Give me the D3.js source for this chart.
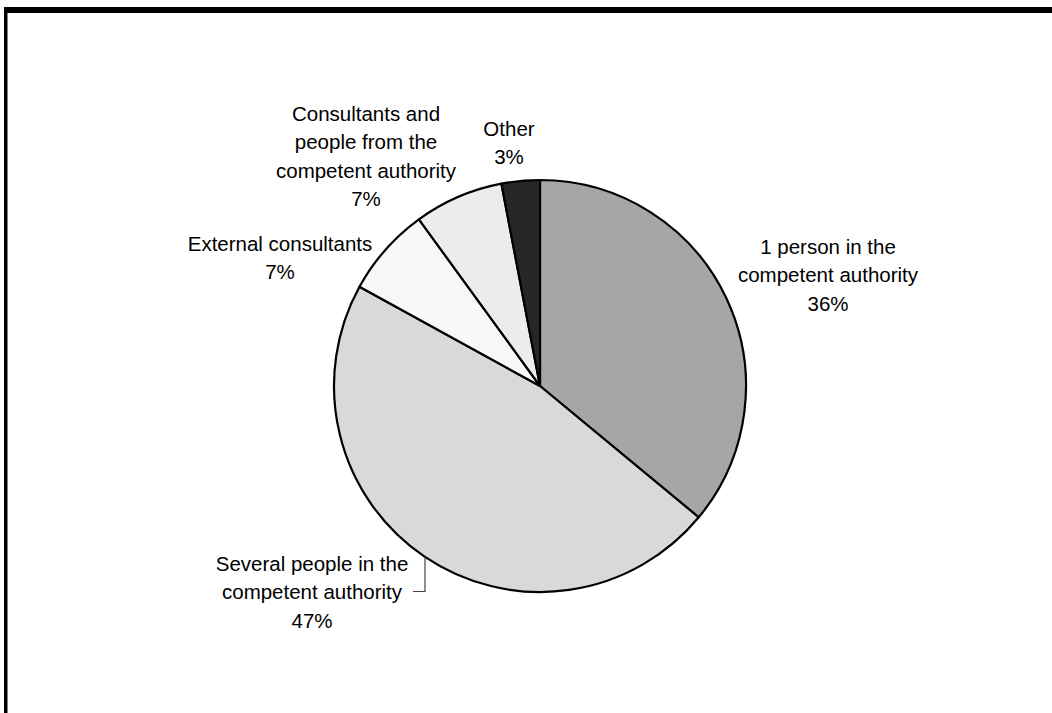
<!DOCTYPE html>
<html>
<head>
<meta charset="utf-8">
<script src="https://cdn.jsdelivr.net/npm/d3@7"></script>
<style>
  html, body { margin: 0; padding: 0; background: #fff; }
  svg { display: block; }
  text { font-family: "Liberation Sans", Arial, sans-serif; fill: #000; }
</style>
</head>
<body>
<svg id="chart" width="1052" height="713"></svg>
<script>
// ---- data ----
const categories = [
  "1 person in the competent authority",
  "Several people in the competent authority",
  "External consultants",
  "Consultants and people from the competent authority",
  "Other"
];
const values = [36, 47, 7, 7, 3];
const labelLines = [
  ["1 person in the", "competent authority"],
  ["Several people in the", "competent authority"],
  ["External consultants"],
  ["Consultants and", "people from the", "competent authority"],
  ["Other"]
];
const colors = ["#a6a6a6", "#d9d9d9", "#f8f8f8", "#ececec", "#272727"];

// ---- layout (positions, not data) ----
const cx = 540, cy = 386, R = 206;
const fontSize = 20.5, lineH = 28.5;
// label centre offsets relative to pie centre (x of centre, y of first line)
const labelPos = [
  [288, -140],
  [-228, -177 + 354],
  [-260, -143],
  [-174, -273],
  [-31, -258]
];

const svg = d3.select("#chart");

// frame
svg.append("rect").attr("x", 4).attr("y", 7).attr("width", 1048).attr("height", 6).attr("fill", "#000");
svg.append("rect").attr("x", 4).attr("y", 7).attr("width", 3.5).attr("height", 706).attr("fill", "#000");

const pie = d3.pie().sort(null).value(d => d)(values);
const arc = d3.arc().innerRadius(0).outerRadius(R);

const g = svg.append("g").attr("transform", `translate(${cx},${cy})`);
g.selectAll("path.slice")
  .data(pie)
  .join("path")
  .attr("class", "slice")
  .attr("d", arc)
  .attr("fill", (d, i) => colors[i])
  .attr("stroke", "#000")
  .attr("stroke-width", 2.2)
  .attr("stroke-linejoin", "round");

// labels
const lg = g.append("g");
pie.forEach((d, i) => {
  const lines = labelLines[i].concat([values[i] + "%"]);
  const t = lg.append("text")
    .attr("text-anchor", "middle")
    .attr("font-size", fontSize);
  lines.forEach((ln, k) => {
    t.append("tspan")
      .attr("x", labelPos[i][0])
      .attr("y", labelPos[i][1] + k * lineH)
      .attr("dominant-baseline", "central")
      .text(ln);
  });
});

// leader line for "Several people" label
{
  const y0 = labelPos[1][1] + lineH; // second line
  const xEnd = labelPos[1][0] + 101;
  const xv = xEnd + 12;
  const yTop = Math.sqrt(R * R - xv * xv);
  lg.append("path")
    .attr("d", `M${xEnd},${y0}H${xv}V${yTop}`)
    .attr("fill", "none")
    .attr("stroke", "#444")
    .attr("stroke-width", 1.2);
}
</script>
</body>
</html>
